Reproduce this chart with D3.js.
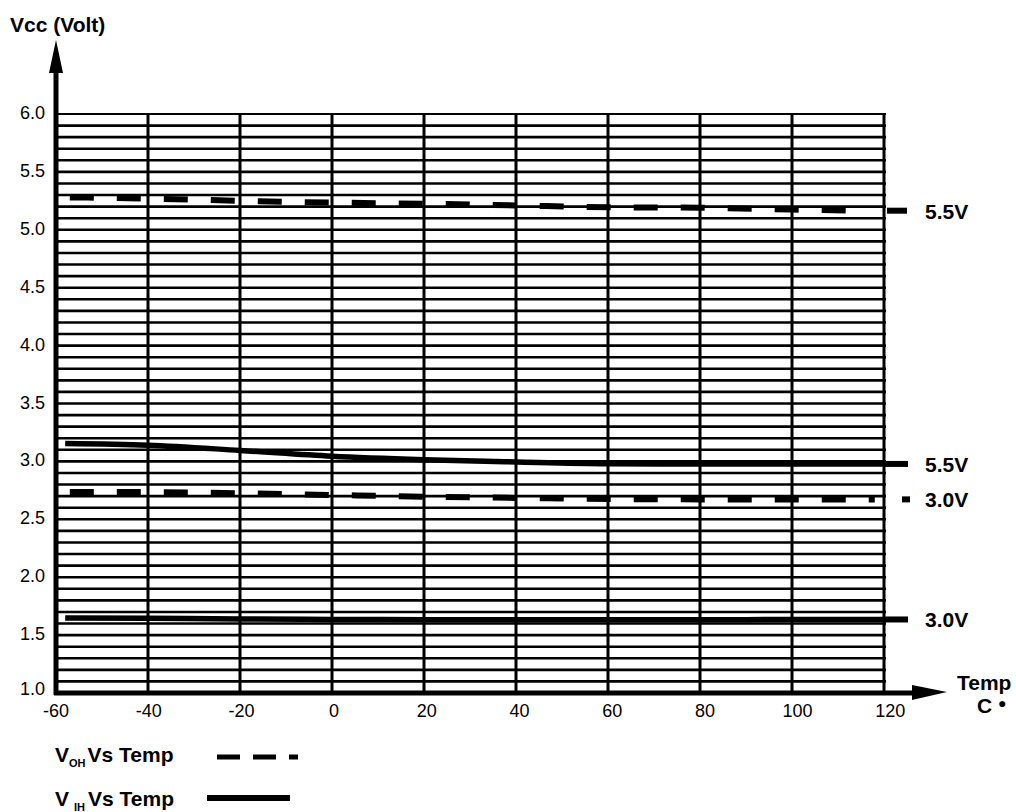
<!DOCTYPE html>
<html>
<head>
<meta charset="utf-8">
<script src="https://cdn.jsdelivr.net/npm/d3@7"></script>
<style>
    body { margin: 0; background: #fff; }
    svg { display: block; font-family: "Liberation Sans", Arial, Helvetica, sans-serif; }
    .tick-label { font-size: 18px; fill: #000; }
    .bold-label { font-size: 21px; font-weight: bold; fill: #000; }
</style>
</head>
<body>
<svg id="chart" width="1016" height="812"></svg>
<script>
// temperature axis (C) and voltage axis (V)
const tempTicks = [-60, -40, -20, 0, 20, 40, 60, 80, 100, 120];
const voltTicks = [1.0, 1.5, 2.0, 2.5, 3.0, 3.5, 4.0, 4.5, 5.0, 5.5, 6.0];

// VOH vs temp, Vcc = 5.5V
const vohHighTemps = [-57, -40, -20, 0, 20, 40, 60, 80, 100, 116];
const vohHighVolts = [5.28, 5.27, 5.25, 5.235, 5.225, 5.21, 5.195, 5.19, 5.175, 5.165];

// VOH vs temp, Vcc = 3.0V
const vohLowTemps = [-57, -40, -20, 0, 20, 40, 60, 80, 100, 118];
const vohLowVolts = [2.735, 2.735, 2.725, 2.71, 2.695, 2.685, 2.675, 2.672, 2.672, 2.672];

// VIH vs temp, Vcc = 5.5V
const vihHighTemps = [-58, -40, -20, 0, 20, 40, 60, 80, 100, 120];
const vihHighVolts = [3.155, 3.14, 3.095, 3.045, 3.015, 2.995, 2.98, 2.978, 2.978, 2.978];

// VIH vs temp, Vcc = 3.0V
const vihLowTemps = [-58, -40, -20, 0, 20, 40, 60, 80, 100, 120];
const vihLowVolts = [1.648, 1.645, 1.64, 1.635, 1.633, 1.632, 1.632, 1.633, 1.634, 1.635];

const endLabels = ["5.5V", "3.0V", "5.5V", "3.0V"];

const svg = d3.select("#chart");

const x = d3.scaleLinear().domain([-60, 120]).range([56, 884]);
const y = d3.scaleLinear().domain([1, 6]).range([693, 114]);

// grid: fine horizontal rules every 0.1V, vertical every 20C
const grid = svg.append("g").attr("stroke", "#000");
grid.selectAll(".hgrid")
    .data(d3.range(11, 61))
    .join("line")
    .attr("class", "hgrid")
    .attr("x1", x(-60))
    .attr("x2", x(120) + 2)
    .attr("y1", d => y(d / 10))
    .attr("y2", d => y(d / 10))
    .attr("stroke-width", d => (d === 60 ? 2 : 2.6));

grid.selectAll(".vgrid")
    .data(tempTicks.slice(1))
    .join("line")
    .attr("class", "vgrid")
    .attr("x1", d => x(d))
    .attr("x2", d => x(d))
    .attr("y1", y(6))
    .attr("y2", y(1))
    .attr("stroke-width", 3);

// axes with arrowheads
const axes = svg.append("g");
axes.append("line")
    .attr("x1", x(-60)).attr("x2", x(-60))
    .attr("y1", y(1) + 2).attr("y2", 70)
    .attr("stroke", "#000").attr("stroke-width", 5);
axes.append("polygon")
    .attr("points", `${x(-60)},40 ${x(-60) - 7},73 ${x(-60) + 7},73`)
    .attr("fill", "#000");
axes.append("line")
    .attr("x1", x(-60) - 2).attr("x2", 915)
    .attr("y1", y(1)).attr("y2", y(1))
    .attr("stroke", "#000").attr("stroke-width", 5);
axes.append("polygon")
    .attr("points", `947,${y(1) - 1} 912,${y(1) - 8} 912,${y(1) + 7}`)
    .attr("fill", "#000");

// tick labels
svg.append("g")
    .selectAll("text")
    .data(voltTicks)
    .join("text")
    .attr("class", "tick-label")
    .attr("x", 45)
    .attr("y", d => y(d) + (d === 1 ? 2 : 5))
    .attr("text-anchor", "end")
    .text(d => d.toFixed(1));

svg.append("g")
    .selectAll("text")
    .data(tempTicks)
    .join("text")
    .attr("class", "tick-label")
    .attr("x", (d, i) => x(d) + i * 0.7)
    .attr("y", 717)
    .attr("text-anchor", "middle")
    .text(d => d);

// axis titles
svg.append("text").attr("class", "bold-label").attr("x", 10).attr("y", 32).text("Vcc (Volt)");
svg.append("text").attr("class", "bold-label").attr("x", 957).attr("y", 690).text("Temp");
const cLabel = svg.append("text").attr("class", "bold-label").attr("x", 977).attr("y", 713);
cLabel.append("tspan").text("C ");
cLabel.append("tspan").attr("dy", -5).attr("font-size", 14).text("\u25CF");

// series
const series = [
    { temps: vohHighTemps, volts: vohHighVolts, dashed: true, label: endLabels[0], lead: [887, 907] },
    { temps: vohLowTemps, volts: vohLowVolts, dashed: true, label: endLabels[1], lead: [902, 910] },
    { temps: vihHighTemps, volts: vihHighVolts, dashed: false, label: endLabels[2], lead: [884, 908] },
    { temps: vihLowTemps, volts: vihLowVolts, dashed: false, label: endLabels[3], lead: [884, 908] },
];

const line = d3.line()
    .x(d => x(d[0]))
    .y(d => y(d[1]))
    .curve(d3.curveMonotoneX);

for (let s of series) {
    const pts = d3.zip(s.temps, s.volts);
    svg.append("path")
        .datum(pts)
        .attr("d", line)
        .attr("fill", "none")
        .attr("stroke", "#000")
        .attr("stroke-width", s.dashed ? 6 : 5.5)
        .attr("stroke-dasharray", s.dashed ? "24 23" : null);
    const yEnd = y(s.volts[s.volts.length - 1]);
    svg.append("line")
        .attr("x1", s.lead[0]).attr("x2", s.lead[1])
        .attr("y1", yEnd).attr("y2", yEnd)
        .attr("stroke", "#000").attr("stroke-width", 6);
    svg.append("text")
        .attr("class", "bold-label")
        .attr("x", 925)
        .attr("y", yEnd + 8)
        .text(s.label);
}

// legend
const legend = svg.append("g");
const l1 = legend.append("text").attr("class", "bold-label").attr("x", 55).attr("y", 762);
l1.append("tspan").text("V");
l1.append("tspan").attr("font-size", 11).attr("dy", 5).text("OH");
l1.append("tspan").attr("dy", -5).attr("dx", 2).text("Vs Temp");
legend.append("line")
    .attr("x1", 217).attr("x2", 298)
    .attr("y1", 757).attr("y2", 757)
    .attr("stroke", "#000").attr("stroke-width", 5)
    .attr("stroke-dasharray", "23 13");

const l2 = legend.append("text").attr("class", "bold-label").attr("x", 55).attr("y", 806);
l2.append("tspan").text("V");
l2.append("tspan").attr("font-size", 11).attr("dy", 5).attr("dx", 5).text("IH");
l2.append("tspan").attr("dy", -5).attr("dx", 3).text("Vs Temp");
legend.append("line")
    .attr("x1", 207).attr("x2", 290)
    .attr("y1", 798).attr("y2", 798)
    .attr("stroke", "#000").attr("stroke-width", 6);
</script>
</body>
</html>
